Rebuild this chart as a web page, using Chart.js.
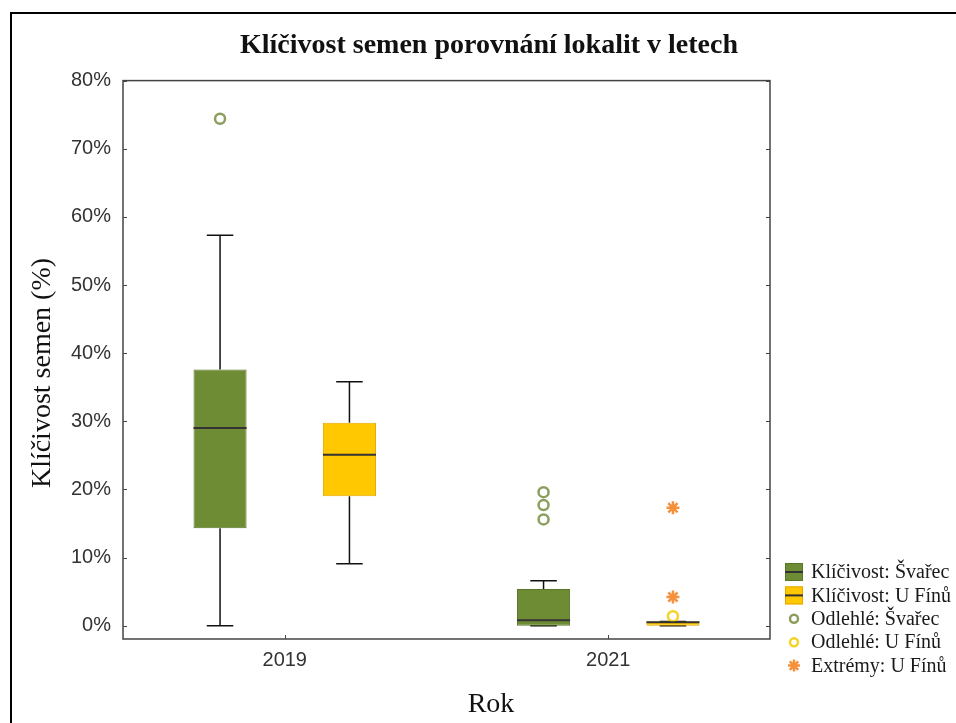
<!DOCTYPE html>
<html>
<head>
<meta charset="utf-8">
<script src="https://cdn.jsdelivr.net/npm/chart.js@4/dist/chart.umd.min.js"></script>
<style>
  html, body { margin: 0; padding: 0; background: #fff; }
  canvas { display: block; }
</style>
</head>
<body>
<canvas id="c" width="956" height="723"></canvas>
<script>
// Categories
const years = ['2019', '2021'];

// Klíčivost: Švařec – five-number summary per year (%)
const svarecMin    = [0, 0];
const svarecQ1     = [14.3, 0];
const svarecMedian = [29.0, 0.8];
const svarecQ3     = [37.6, 5.4];
const svarecMax    = [57.3, 6.6];

// Klíčivost: U Fínů – five-number summary per year (%)
const finuMin    = [9.1, 0];
const finuQ1     = [19.0, 0];
const finuMedian = [25.1, 0.5];
const finuQ3     = [29.8, 0.6];
const finuMax    = [35.8, 0.6];

// Odlehlé a extrémní hodnoty per year (%)
const svarecOutliers = [[74.4], [19.6, 17.7, 15.6]];
const finuOutliers   = [[], [1.4]];
const finuExtremes   = [[], [17.3, 4.2]];

// Y axis tick values (%)
const yTicks = [0, 10, 20, 30, 40, 50, 60, 70, 80];

// Styling
const GREEN = '#6e8c34', GREEN_EDGE = '#5a7429';
const YELLOW = '#ffc800', YELLOW_EDGE = '#e3a900';
const GREEN_RING = '#8c9e5e', YELLOW_RING = '#f4d325', ORANGE = '#f5913a';
const SERIF = "'Liberation Serif', 'Times New Roman', serif";
const SANS = "'Liberation Sans', Arial, sans-serif";

// The two sites sit at ±GROUP_SHIFT (in year units) around each year
const GROUP_SHIFT = 0.2;
const toPoints = (lists, shift) =>
  lists.flatMap((vals, i) => vals.map(v => ({ x: i + shift, y: v })));
const toBoxes = (q1, q3, shift) =>
  years.map((_, i) => ({ x: i + shift, y: [q1[i], q3[i]] }));

const boxStats = [
  { min: svarecMin, q1: svarecQ1, med: svarecMedian, q3: svarecQ3, max: svarecMax },
  { min: finuMin, q1: finuQ1, med: finuMedian, q3: finuQ3, max: finuMax }
];

const boxPlotPlugin = {
  id: 'boxPlotDecor',
  beforeDraw(chart) {
    const ctx = chart.ctx;
    ctx.save();
    ctx.strokeStyle = '#000';
    ctx.lineWidth = 2;
    ctx.beginPath();
    ctx.moveTo(11, chart.height + 2);
    ctx.lineTo(11, 13);
    ctx.lineTo(chart.width + 2, 13);
    ctx.stroke();
    ctx.restore();
  },
  beforeDatasetsDraw(chart) {
    // whiskers with end caps
    const ctx = chart.ctx, y = chart.scales.y;
    ctx.save();
    ctx.strokeStyle = '#111';
    ctx.lineWidth = 1.5;
    boxStats.forEach((s, d) => {
      chart.getDatasetMeta(d).data.forEach((el, i) => {
        const cap = el.width * 0.25;
        const yMin = y.getPixelForValue(s.min[i]), yMax = y.getPixelForValue(s.max[i]);
        const yQ1 = y.getPixelForValue(s.q1[i]), yQ3 = y.getPixelForValue(s.q3[i]);
        ctx.beginPath();
        ctx.moveTo(el.x, yQ3); ctx.lineTo(el.x, yMax);
        ctx.moveTo(el.x - cap, yMax); ctx.lineTo(el.x + cap, yMax);
        ctx.moveTo(el.x, yQ1); ctx.lineTo(el.x, yMin);
        ctx.moveTo(el.x - cap, yMin); ctx.lineTo(el.x + cap, yMin);
        ctx.stroke();
      });
    });
    ctx.restore();
  },
  afterDatasetsDraw(chart) {
    const ctx = chart.ctx, y = chart.scales.y, x = chart.scales.x, a = chart.chartArea;
    ctx.save();
    // medians
    ctx.strokeStyle = '#333';
    ctx.lineWidth = 2;
    boxStats.forEach((s, d) => {
      chart.getDatasetMeta(d).data.forEach((el, i) => {
        const ym = y.getPixelForValue(s.med[i]);
        ctx.beginPath();
        ctx.moveTo(el.x - el.width / 2, ym);
        ctx.lineTo(el.x + el.width / 2, ym);
        ctx.stroke();
      });
    });
    // plot frame and inward tick marks
    ctx.strokeStyle = '#444';
    ctx.lineWidth = 1.5;
    ctx.strokeRect(a.left, a.top, a.right - a.left, a.bottom - a.top);
    ctx.lineWidth = 1;
    ctx.beginPath();
    yTicks.forEach(v => {
      const py = Math.round(y.getPixelForValue(v)) + 0.5;
      ctx.moveTo(a.left, py); ctx.lineTo(a.left + 4, py);
      ctx.moveTo(a.right, py); ctx.lineTo(a.right - 4, py);
    });
    years.forEach((_, i) => {
      const px = Math.round(x.getPixelForValue(i)) + 0.5;
      ctx.moveTo(px, a.bottom); ctx.lineTo(px, a.bottom - 4);
    });
    ctx.stroke();
    ctx.restore();
  },
  afterDraw(chart) {
    const ctx = chart.ctx;
    ctx.save();
    ctx.fillStyle = '#111';
    ctx.font = '28px ' + SERIF;
    ctx.textAlign = 'center';
    ctx.textBaseline = 'middle';
    // axis titles
    ctx.fillText('Rok', 491, 705);
    ctx.save();
    ctx.translate(43, 373);
    ctx.rotate(-Math.PI / 2);
    ctx.fillText('Klíčivost semen (%)', 0, 0);
    ctx.restore();

    // legend
    const rowY0 = 572, rowGap = 23.4, iconX = 794, textX = 811;
    ctx.font = '20px ' + SERIF;
    ctx.textAlign = 'left';
    chart.data.datasets.forEach((ds, k) => {
      const cy = rowY0 + k * rowGap;
      if (ds.type === 'bar') {
        ctx.fillStyle = ds.backgroundColor;
        ctx.fillRect(iconX - 9, cy - 9, 18, 18);
        ctx.strokeStyle = ds.borderColor;
        ctx.lineWidth = 1;
        ctx.strokeRect(iconX - 9 + 0.5, cy - 9 + 0.5, 17, 17);
        ctx.strokeStyle = '#333';
        ctx.lineWidth = 2;
        ctx.beginPath();
        ctx.moveTo(iconX - 9, cy); ctx.lineTo(iconX + 9, cy);
        ctx.stroke();
      } else {
        ctx.strokeStyle = ds.borderColor;
        ctx.fillStyle = ds.backgroundColor;
        ctx.lineWidth = ds.borderWidth;
        Chart.helpers.drawPoint(ctx, {
          pointStyle: ds.pointStyle, radius: ds.legendRadius, borderWidth: ds.borderWidth, rotation: 0
        }, iconX, cy);
      }
      ctx.fillStyle = '#1a1a1a';
      ctx.fillText(ds.label, textX, cy + 1);
    });
    ctx.restore();
  }
};

new Chart(document.getElementById('c'), {
  type: 'bar',
  data: {
    datasets: [
      {
        type: 'bar', label: 'Klíčivost: Švařec',
        data: toBoxes(svarecQ1, svarecQ3, -GROUP_SHIFT),
        backgroundColor: GREEN, borderColor: GREEN_EDGE, borderWidth: 1, borderSkipped: false,
        grouped: false, categoryPercentage: 1, barPercentage: 0.41
      },
      {
        type: 'bar', label: 'Klíčivost: U Fínů',
        data: toBoxes(finuQ1, finuQ3, GROUP_SHIFT),
        backgroundColor: YELLOW, borderColor: YELLOW_EDGE, borderWidth: 1, borderSkipped: false,
        grouped: false, categoryPercentage: 1, barPercentage: 0.41
      },
      {
        type: 'scatter', label: 'Odlehlé: Švařec',
        data: toPoints(svarecOutliers, -GROUP_SHIFT),
        pointStyle: 'circle', pointRadius: 5, legendRadius: 4,
        borderColor: GREEN_RING, backgroundColor: 'rgba(255,255,255,0)', borderWidth: 2.5
      },
      {
        type: 'scatter', label: 'Odlehlé: U Fínů',
        data: toPoints(finuOutliers, GROUP_SHIFT),
        pointStyle: 'circle', pointRadius: 5, legendRadius: 4,
        borderColor: YELLOW_RING, backgroundColor: 'rgba(255,255,255,0)', borderWidth: 2.5
      },
      {
        type: 'scatter', label: 'Extrémy: U Fínů',
        data: toPoints(finuExtremes, GROUP_SHIFT),
        pointStyle: 'star', pointRadius: 6.5, legendRadius: 6,
        borderColor: ORANGE, backgroundColor: ORANGE, borderWidth: 2.5
      }
    ]
  },
  options: {
    responsive: false,
    animation: false,
    devicePixelRatio: 1,
    layout: { padding: { left: 22, right: 0, top: 0, bottom: 0 } },
    plugins: {
      legend: { display: false },
      tooltip: { enabled: false },
      title: {
        display: true,
        text: 'Klíčivost semen porovnání lokalit v letech',
        color: '#111',
        font: { family: SERIF, size: 28, weight: 'bold' },
        padding: { top: 29, bottom: 18 }
      }
    },
    scales: {
      x: {
        type: 'linear',
        min: -0.5,
        max: 1.5,
        offset: false,
        grid: { display: false, drawTicks: false, offset: false },
        border: { display: false },
        afterBuildTicks(s) { s.ticks = years.map((_, i) => ({ value: i })); },
        ticks: {
          color: '#333',
          font: { family: SANS, size: 20 },
          padding: 9,
          callback: v => years[v]
        },
        afterFit(s) { s.height = 84; }
      },
      y: {
        type: 'linear',
        min: -1.95,
        max: 80,
        grid: { display: false, drawTicks: false },
        border: { display: false },
        afterBuildTicks(s) { s.ticks = yTicks.map(v => ({ value: v })); },
        ticks: {
          color: '#333',
          font: { family: SANS, size: 20 },
          padding: 12,
          callback: v => v + '%'
        },
        afterFit(s) { s.width = 101; }
      },
      yRight: {
        type: 'linear',
        position: 'right',
        display: true,
        grid: { display: false, drawTicks: false },
        border: { display: false },
        ticks: { display: false },
        afterFit(s) { s.width = 186; }
      }
    }
  },
  plugins: [boxPlotPlugin]
});
</script>
</body>
</html>
